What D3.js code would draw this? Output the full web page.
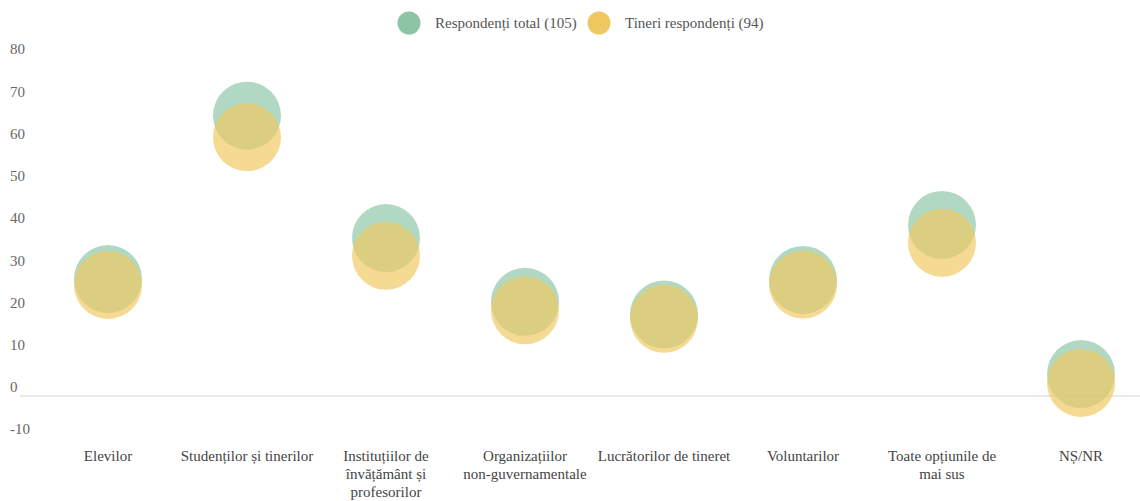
<!DOCTYPE html>
<html>
<head>
<meta charset="utf-8">
<script src="https://cdn.jsdelivr.net/npm/d3@7"></script>
<style>
  body { margin: 0; background: #fff; }
</style>
</head>
<body>
<div id="container"></div>
<script>
const w = 1140;
const h = 501;
const zeroY = 396;
const unit = 4.222;
const radius = 34;
const fontSize = 15;
const fontFamily = "'Liberation Serif', 'Times New Roman', Times, 'DejaVu Serif', serif";

const categories = [
  'Elevilor',
  'Studenților și tinerilor',
  'Instituțiilor de\nînvățământ și\nprofesorilor',
  'Organizațiilor\nnon-guvernamentale',
  'Lucrătorilor de tineret',
  'Voluntarilor',
  'Toate opțiunile de\nmai sus',
  'NȘ/NR'
];
const totalValues = [27.7, 66.4, 37.4, 22.3, 19.3, 27.5, 40.5, 5.2];
const youngValues = [26.3, 61.3, 33.2, 20.3, 18.3, 26.4, 36.3, 3.1];
const seriesNames = ['Respondenți total (105)', 'Tineri respondenți (94)'];
const seriesColors = ['#8cc5a6', '#f0c862'];
const yTicks = [-10, 0, 10, 20, 30, 40, 50, 60, 70, 80];

const svg = d3.select('#container')
              .append('svg')
              .attr('width', w)
              .attr('height', h)
              .attr('font-family', fontFamily)
              .style('font-family', fontFamily);

// Scales
const xScale = d3.scaleBand()
                 .domain(categories)
                 .range([38.5, 1150.5]);

const yScale = d3.scaleLinear()
                 .domain([0, 80])
                 .range([zeroY, zeroY - 80 * unit]);

// zero line
svg.append('line')
   .attr('x1', 20)
   .attr('x2', w)
   .attr('y1', yScale(0))
   .attr('y2', yScale(0))
   .attr('stroke', '#e3e3e3')
   .attr('stroke-width', 1.5);

// y labels (sit above their value)
svg.append('g')
   .selectAll('text')
   .data(yTicks)
   .enter()
   .append('text')
   .attr('x', 10)
   .attr('y', d => yScale(d) - 9)
   .attr('dy', '.35em')
   .attr('font-size', fontSize)
   .attr('fill', '#666')
   .text(d => d);

// x labels
const xLabels = svg.append('g')
                   .selectAll('text')
                   .data(categories)
                   .enter()
                   .append('text')
                   .attr('text-anchor', 'middle')
                   .attr('font-size', fontSize)
                   .attr('fill', '#444')
                   .attr('x', d => xScale(d) + xScale.bandwidth() / 2)
                   .attr('y', 461);

xLabels.each(function(d) {
  const el = d3.select(this);
  d.split('\n').forEach((line, i) => {
    el.append('tspan')
      .attr('x', xScale(d) + xScale.bandwidth() / 2)
      .attr('dy', i === 0 ? 0 : 18)
      .text(line);
  });
});

// bubbles
const series = [totalValues, youngValues];
series.forEach((values, s) => {
  svg.append('g')
     .selectAll('circle')
     .data(values)
     .enter()
     .append('circle')
     .attr('cx', (d, i) => xScale(categories[i]) + xScale.bandwidth() / 2)
     .attr('cy', d => yScale(d))
     .attr('r', radius)
     .attr('fill', seriesColors[s])
     .attr('fill-opacity', 0.68);
});

// legend
const legendItems = [
  { x: 409, name: seriesNames[0], color: seriesColors[0] },
  { x: 599, name: seriesNames[1], color: seriesColors[1] }
];
const legend = svg.append('g')
                  .selectAll('g')
                  .data(legendItems)
                  .enter()
                  .append('g')
                  .attr('transform', d => `translate(${d.x}, 23)`);

legend.append('circle')
      .attr('r', 11.5)
      .attr('fill', d => d.color);

legend.append('text')
      .attr('x', 26)
      .attr('dy', '.35em')
      .attr('font-size', fontSize)
      .attr('fill', '#555')
      .text(d => d.name);
</script>
</body>
</html>
